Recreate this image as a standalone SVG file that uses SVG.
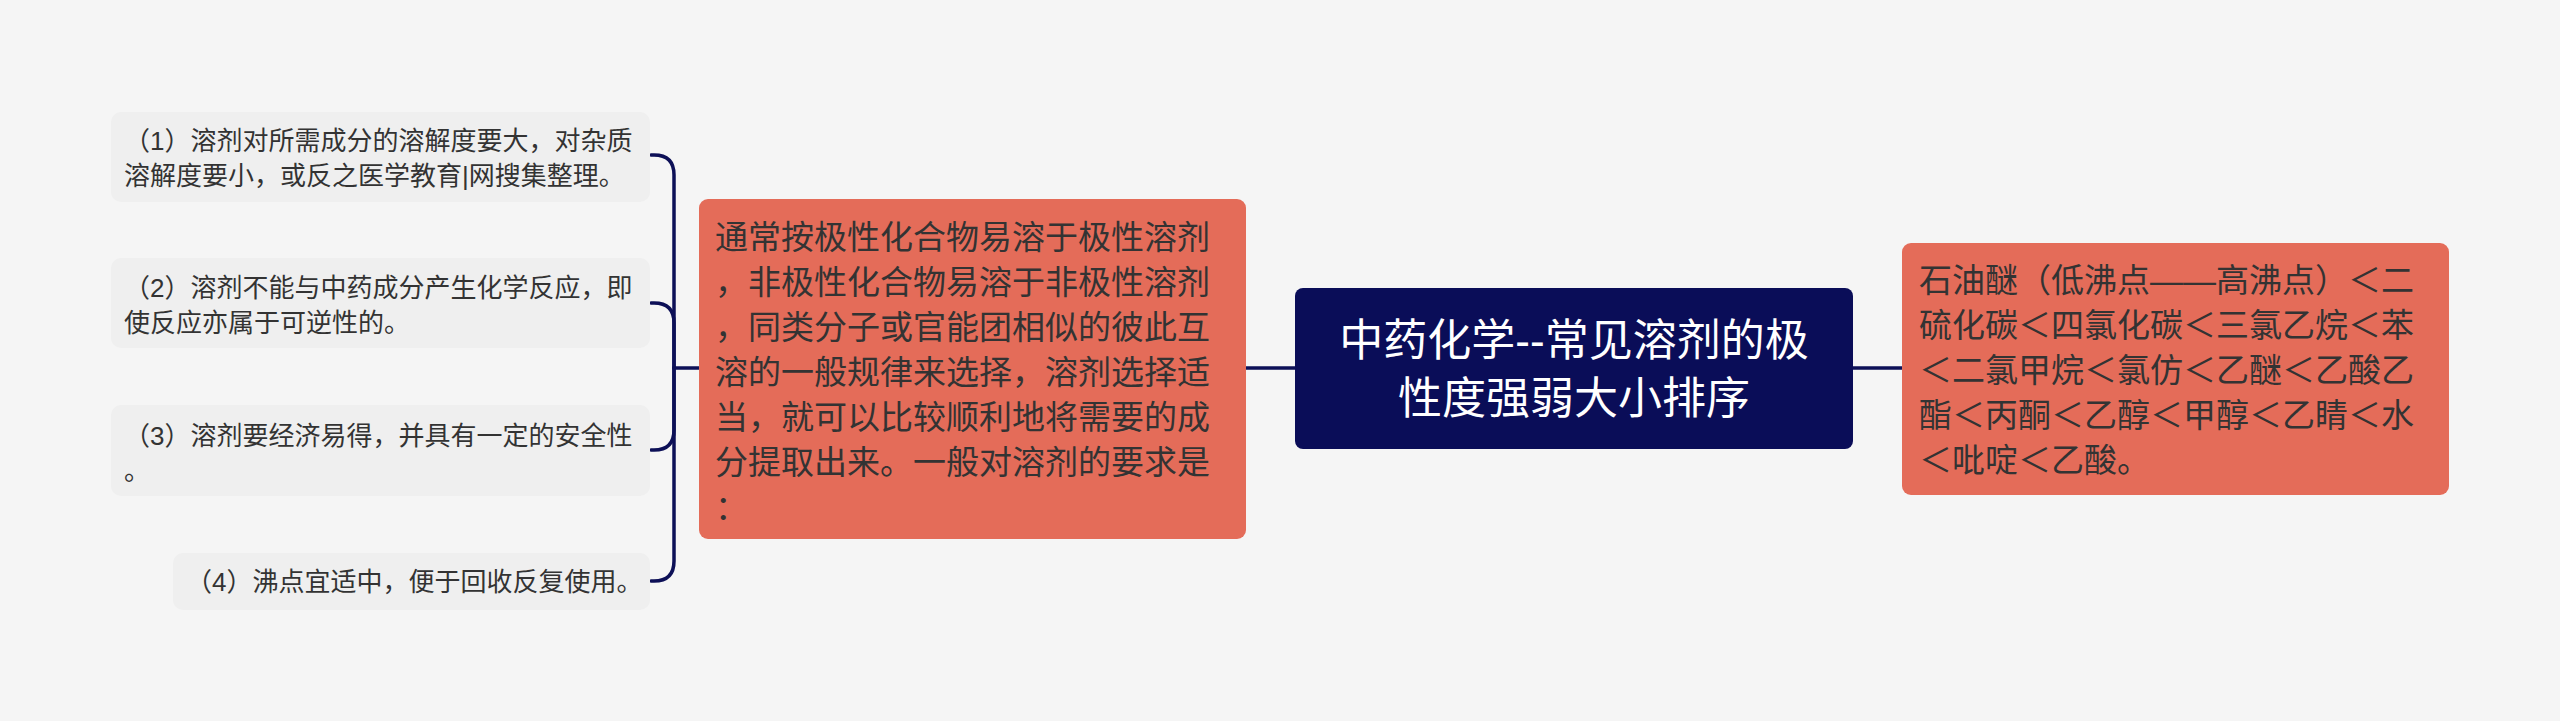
<svg xmlns="http://www.w3.org/2000/svg" width="2560" height="721" viewBox="0 0 2560 721">
<style>
.bg{fill:#f5f5f5}
.leaf{fill:#efefef}
.sal{fill:#e46c59}
.root{fill:#0a0d58}
.t{font-family:"Liberation Sans","Noto Sans CJK SC",sans-serif;fill:#333333}
.s{font-size:26px}
.m{font-size:33px}
.r{font-size:44px;fill:#ffffff;text-anchor:middle}
.c{fill:none;stroke:#0d1057;stroke-width:3.5;stroke-linecap:round;stroke-linejoin:round}
</style>
<rect class="bg" x="0" y="0" width="2560" height="721"/>
<g id="connectors">
<path class="c" d="M 699 368 H 674"/>
<path class="c" d="M 674 368 V 175 Q 674 155 654 155 H 651"/>
<path class="c" d="M 674 368 V 323 Q 674 303 654 303 H 651"/>
<path class="c" d="M 674 368 V 430 Q 674 450 654 450 H 651"/>
<path class="c" d="M 674 368 V 561 Q 674 581 654 581 H 651"/>
<path class="c" d="M 1246 368 H 1295"/>
<path class="c" d="M 1853 368 H 1902"/>
</g>
<g id="root">
<rect class="root" x="1295" y="288" width="558" height="161" rx="8"/>
<text class="t r" x="1574" y="356">中药化学--常见溶剂的极</text>
<text class="t r" x="1574" y="414">性度强弱大小排序</text>
</g>
<g id="left-node">
<rect class="sal" x="699" y="199" width="547" height="340" rx="9"/>
<text class="t m" x="715" y="249">通常按极性化合物易溶于极性溶剂</text>
<text class="t m" x="715" y="294">，非极性化合物易溶于非极性溶剂</text>
<text class="t m" x="715" y="339">，同类分子或官能团相似的彼此互</text>
<text class="t m" x="715" y="384">溶的一般规律来选择，溶剂选择适</text>
<text class="t m" x="715" y="429">当，就可以比较顺利地将需要的成</text>
<text class="t m" x="715" y="474">分提取出来。一般对溶剂的要求是</text>
<text class="t m" x="715" y="519">：</text>
</g>
<g id="right-node">
<rect class="sal" x="1902" y="243" width="547" height="252" rx="9"/>
<text class="t m" x="1919" y="292">石油醚（低沸点——高沸点）＜二</text>
<text class="t m" x="1919" y="337">硫化碳＜四氯化碳＜三氯乙烷＜苯</text>
<text class="t m" x="1919" y="382">＜二氯甲烷＜氯仿＜乙醚＜乙酸乙</text>
<text class="t m" x="1919" y="427">酯＜丙酮＜乙醇＜甲醇＜乙睛＜水</text>
<text class="t m" x="1919" y="472">＜吡啶＜乙酸。</text>
</g>
<g id="leaf-1">
<rect class="leaf" x="111" y="112" width="539" height="90" rx="10"/>
<text class="t s" x="124" y="150">（1）溶剂对所需成分的溶解度要大，对杂质</text>
<text class="t s" x="124" y="185">溶解度要小，或反之医学教育|网搜集整理。</text>
</g>
<g id="leaf-2">
<rect class="leaf" x="111" y="258" width="539" height="90" rx="10"/>
<text class="t s" x="124" y="297">（2）溶剂不能与中药成分产生化学反应，即</text>
<text class="t s" x="124" y="332">使反应亦属于可逆性的。</text>
</g>
<g id="leaf-3">
<rect class="leaf" x="111" y="405" width="539" height="91" rx="10"/>
<text class="t s" x="124" y="445">（3）溶剂要经济易得，并具有一定的安全性</text>
<text class="t s" x="124" y="480">。</text>
</g>
<g id="leaf-4">
<rect class="leaf" x="173" y="553" width="477" height="57" rx="10"/>
<text class="t s" x="186" y="591">（4）沸点宜适中，便于回收反复使用。</text>
</g>
</svg>
